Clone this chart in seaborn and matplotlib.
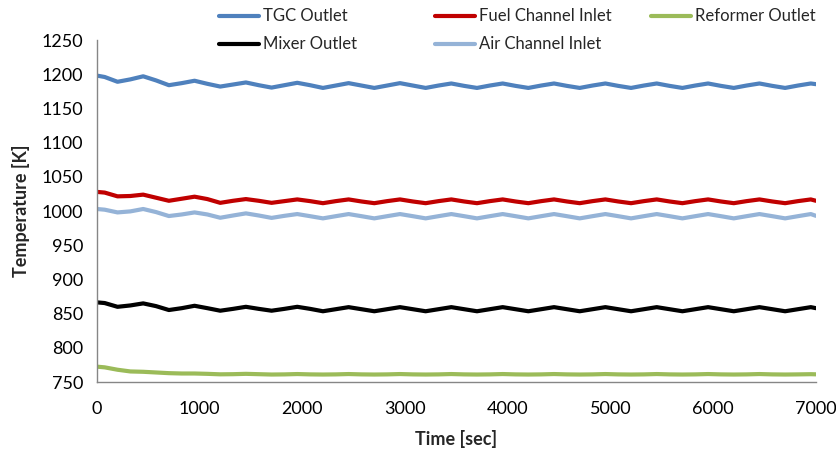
import numpy as np
import pandas as pd
import matplotlib
matplotlib.use("Agg")
import matplotlib.pyplot as plt
import seaborn as sns

# ---- data ----
time_sec = [0, 75,
            200, 325, 450, 575, 700, 825, 950, 1075, 1200, 1325, 1450, 1575,
            1700, 1825, 1950, 2075, 2200, 2325, 2450, 2575, 2700, 2825, 2950, 3075,
            3200, 3325, 3450, 3575, 3700, 3825, 3950, 4075, 4200, 4325, 4450, 4575,
            4700, 4825, 4950, 5075, 5200, 5325, 5450, 5575, 5700, 5825, 5950, 6075,
            6200, 6325, 6450, 6575, 6700, 6825, 6950, 7000]

tgc_outlet = [1198, 1196,
              1189, 1192.5, 1197, 1191, 1184, 1187, 1190.5, 1186, 1182, 1185, 1188, 1184,
              1180.5, 1184, 1187.5, 1184, 1180, 1183.5, 1187, 1183.5, 1180, 1183.5, 1187, 1183.5,
              1180, 1183.5, 1186.5, 1183, 1180, 1183.5, 1186.5, 1183, 1180, 1183.5, 1186.5, 1183,
              1180, 1183.5, 1186.5, 1183, 1180, 1183.5, 1186.5, 1183, 1180, 1183.5, 1186.5, 1183,
              1180, 1183.5, 1186.5, 1183, 1180, 1183.5, 1186.5, 1185.5]

fuel_channel_inlet = [1028, 1027,
                      1021.5, 1022, 1024, 1019.5, 1015, 1018, 1021, 1017.5, 1012, 1015, 1017.5, 1015,
                      1012, 1014.5, 1017, 1014.5, 1011.5, 1014.5, 1017, 1014, 1011.5, 1014.5, 1017, 1014,
                      1011.5, 1014.5, 1017, 1014, 1011.5, 1014.5, 1017, 1014, 1011.5, 1014.5, 1017, 1014,
                      1011.5, 1014.5, 1017, 1014, 1011.5, 1014.5, 1017, 1014, 1011.5, 1014.5, 1017, 1014,
                      1011.5, 1014.5, 1017, 1014, 1011.5, 1014.5, 1017, 1015]

reformer_outlet = [772.5, 771.5,
                   768, 765.5, 765, 764, 763, 762.5, 762.5, 762, 761.3, 761.5, 762, 761.5,
                   761, 761.2, 761.7, 761.2, 761, 761.2, 761.7, 761.2, 761, 761.2, 761.7, 761.2,
                   761, 761.2, 761.7, 761.2, 761, 761.2, 761.7, 761.2, 761, 761.2, 761.7, 761.2,
                   761, 761.2, 761.7, 761.2, 761, 761.2, 761.7, 761.2, 761, 761.2, 761.7, 761.2,
                   761, 761.2, 761.7, 761.2, 761, 761.2, 761.5, 761.3]

mixer_outlet = [866.5, 865.5,
                860, 862, 865, 861, 855.3, 858, 861.5, 858, 854.3, 857, 860, 857,
                854.3, 857, 860, 857, 853.5, 856.5, 859.5, 856.5, 853.5, 856.5, 859.5, 856.5,
                853.5, 856.5, 859.5, 856.5, 853.5, 856.5, 859.5, 856.5, 853.5, 856.5, 859.5, 856.5,
                853.5, 856.5, 859.5, 856.5, 853.5, 856.5, 859.5, 856.5, 853.5, 856.5, 859.5, 856.5,
                853.5, 856.5, 859.5, 856.5, 853.5, 856.5, 859.5, 858]

air_channel_inlet = [1003, 1002,
                     998, 999.5, 1003, 998.5, 992.7, 995, 998, 995, 990.2, 993.5, 996.6, 993.5,
                     990, 993, 995.6, 992.5, 989.3, 992.5, 995.6, 992.5, 989.3, 992.5, 995.6, 992.5,
                     989.3, 992.5, 995.6, 992.5, 989.3, 992.5, 995.6, 992.5, 989.3, 992.5, 995.6, 992.5,
                     989.3, 992.5, 995.6, 992.5, 989.3, 992.5, 995.6, 992.5, 989.3, 992.5, 995.6, 992.5,
                     989.3, 992.5, 995.6, 992.5, 989.3, 992.5, 995.6, 993]

series_names = ["TGC Outlet", "Fuel Channel Inlet", "Reformer Outlet",
                "Mixer Outlet", "Air Channel Inlet"]
series_values = [tgc_outlet, fuel_channel_inlet, reformer_outlet,
                 mixer_outlet, air_channel_inlet]
series_colors = ["#4F81BD", "#C00000", "#9BBB59", "#000000", "#95B3D7"]

x_ticks = [0, 1000, 2000, 3000, 4000, 5000, 6000, 7000]
y_ticks = [750, 800, 850, 900, 950, 1000, 1050, 1100, 1150, 1200, 1250]

# ---- build long table ----
frames = []
for name, vals in zip(series_names, series_values):
    frames.append(pd.DataFrame({"Time": time_sec, "Temp": vals, "Series": name}))
df = pd.concat(frames, ignore_index=True)

sns.set_style("white")
plt.rcParams["font.family"] = ["Lato", "DejaVu Sans"]

fig = plt.figure(figsize=(8.36, 4.5), dpi=100)
ax = fig.add_axes([0.116, 0.151, 0.860, 0.760])

sns.lineplot(data=df, x="Time", y="Temp", hue="Series", hue_order=series_names,
             palette=dict(zip(series_names, series_colors)), linewidth=3.0,
             ax=ax, legend=False, sort=False)

ax.set_xlim(0, 7000)
ax.set_ylim(750, 1250)
ax.set_xticks(x_ticks)
ax.set_yticks(y_ticks)
ax.tick_params(axis="both", direction="in", length=4, width=1, color="#868686",
               labelsize=13, labelcolor="#000000")
ax.tick_params(axis="y", pad=10)
ax.tick_params(axis="x", pad=14)
for s in ["top", "right"]:
    ax.spines[s].set_visible(False)
for s in ["left", "bottom"]:
    ax.spines[s].set_color("#868686")
    ax.spines[s].set_linewidth(1)
ax.grid(False)

ax.set_xlabel("Time [sec]", fontsize=13, fontweight="bold", labelpad=9)
ax.set_ylabel("Temperature [K]", fontsize=13, fontweight="bold", labelpad=8)

# ---- legend: 3 columns placed like the reference ----
lines = {name: ln for name, ln in zip(series_names, ax.get_lines())}
columns = [(["TGC Outlet", "Mixer Outlet"], 0.260),
           (["Fuel Channel Inlet", "Air Channel Inlet"], 0.518),
           (["Reformer Outlet"], 0.777)]
for names, xpos in columns:
    fig.legend([lines[n] for n in names], names, loc="upper left",
               bbox_to_anchor=(xpos, 0.985), frameon=False, fontsize=12,
               handlelength=2.4, handletextpad=0.25, labelspacing=0.72,
               borderpad=0.1, borderaxespad=0.0)

fig.savefig("out.png", dpi=100)
